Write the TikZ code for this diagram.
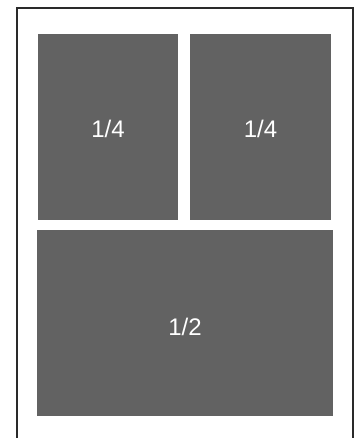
\documentclass[tikz,border=0pt]{standalone}
\usepackage{fontspec}
\setmainfont{Liberation Sans}
\definecolor{panel}{HTML}{626262}
\definecolor{frame}{HTML}{2A2A2A}
\begin{document}
\begin{tikzpicture}[x=1pt,y=-1pt,
  panelbox/.style={fill=panel,draw=none},
  lbl/.style={text=white,font=\fontsize{24}{28}\selectfont,inner sep=0pt}]
\useasboundingbox (0,0) rectangle (361,438);
\fill[white] (0,0) rectangle (361,438);
\draw[frame,line width=2pt] (17,439) -- (17,8) -- (353,8) -- (353,439);
\fill[panelbox] (38,34) rectangle (178,220);
\node[lbl] (q1) at (108,129) {1/4};
\fill[panelbox] (190,34) rectangle (331,220);
\node[lbl] (q2) at (260.5,129) {1/4};
\fill[panelbox] (37,230) rectangle (333,416);
\node[lbl] (h1) at (185,327) {1/2};
\end{tikzpicture}
\end{document}
